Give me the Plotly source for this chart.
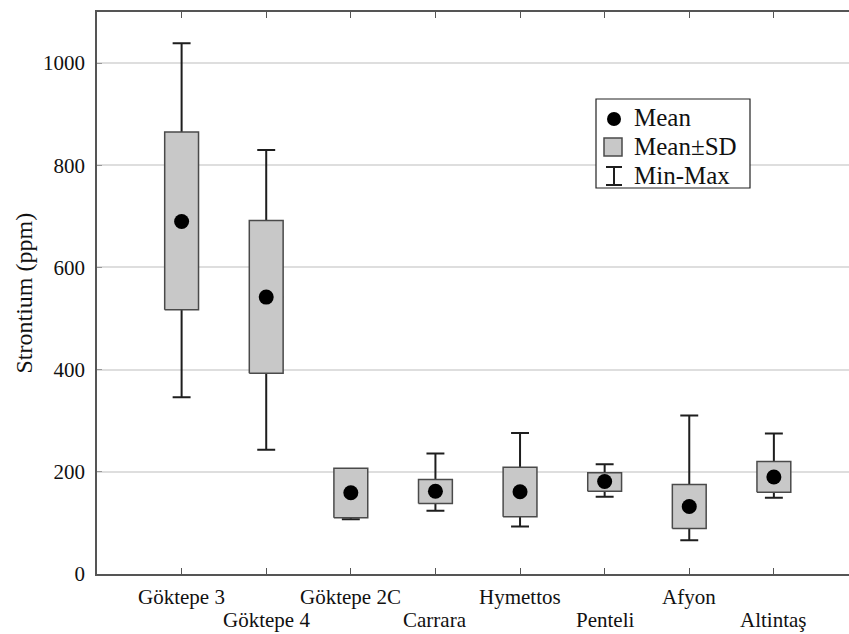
import plotly.graph_objects as go

# ---- data ----
categories = ["Göktepe 3", "Göktepe 4", "Göktepe 2C", "Carrara",
              "Hymettos", "Penteli", "Afyon", "Altintaş"]
mean_vals = [690, 542, 159, 162, 161, 181, 132, 190]
sd_low = [517, 393, 110, 138, 112, 162, 89, 160]     # mean - SD
sd_high = [865, 692, 207, 185, 209, 198, 175, 220]   # mean + SD
min_vals = [346, 243, 107, 124, 93, 151, 66, 149]
max_vals = [1039, 830, 205, 236, 276, 215, 310, 275]
y_ticks = [0, 200, 400, 600, 800, 1000]

FONT = "Liberation Serif, Times New Roman, serif"
W, H = 849, 634
ML, MR, MT, MB = 97, 0, 12, 60
PW, PH = W - ML - MR, H - MT - MB
BOX_HALF = 0.2

def px(x):
    return (x - ML) / PW

def py(y):
    return (H - MB - y) / PH

xs = list(range(len(categories)))

fig = go.Figure()
# whiskers (min-max): degenerate box at the mean with caps at min and max
fig.add_trace(go.Box(
    x=xs, q1=mean_vals, median=mean_vals, q3=mean_vals,
    lowerfence=min_vals, upperfence=max_vals,
    width=2 * BOX_HALF, whiskerwidth=0.53,
    fillcolor="rgba(0,0,0,0)", line=dict(color="#1e1e1e", width=2),
    boxpoints=False, showlegend=False, hoverinfo="skip",
))

# mean ± SD boxes as filled rectangles (scatter layer, drawn above whiskers)
rx, ry = [], []
for i, lo, hi in zip(xs, sd_low, sd_high):
    rx += [i - BOX_HALF, i + BOX_HALF, i + BOX_HALF, i - BOX_HALF, i - BOX_HALF, None]
    ry += [lo, lo, hi, hi, lo, None]
fig.add_trace(go.Scatter(
    x=rx, y=ry, mode="lines", fill="toself", fillcolor="#c8c8c8",
    line=dict(color="#4a4a4a", width=1.5), showlegend=False, hoverinfo="skip",
))

# means
fig.add_trace(go.Scatter(
    x=xs, y=mean_vals, mode="markers",
    marker=dict(color="black", size=15, line=dict(width=0)),
    showlegend=False, hoverinfo="skip",
))

annotations = []
for i, c in enumerate(categories):
    ypx = 597 if i % 2 == 0 else 620
    annotations.append(dict(x=i, xref="x", y=py(ypx), yref="paper",
                            text=c, showarrow=False, xanchor="center",
                            yanchor="middle", font=dict(family=FONT, size=21, color="#111")))

annotations.append(dict(x=px(23.5), xref="paper", y=0.5, yref="paper",
                        text="Strontium (ppm)", textangle=-90, showarrow=False,
                        xanchor="center", yanchor="middle",
                        font=dict(family=FONT, size=24, color="#111")))

# legend (drawn manually)
leg_items = ["Mean", "Mean±SD", "Min-Max"]
leg_y = [118, 147, 176]
for t, yy in zip(leg_items, leg_y):
    annotations.append(dict(x=px(632), xref="paper", y=py(yy), yref="paper",
                            text=t, showarrow=False, xanchor="left", yanchor="middle",
                            font=dict(family=FONT, size=25, color="#111")))

shapes = [
    dict(type="rect", xref="paper", yref="paper", x0=px(596), x1=px(750),
         y0=py(99), y1=py(188), line=dict(color="#222", width=1.2), fillcolor="white", layer="above"),
    dict(type="circle", xref="paper", yref="paper", x0=px(607), x1=px(621),
         y0=py(112), y1=py(126), line=dict(width=0), fillcolor="black", layer="above"),
    dict(type="rect", xref="paper", yref="paper", x0=px(604), x1=px(622),
         y0=py(138), y1=py(156), line=dict(color="#4a4a4a", width=1.5), fillcolor="#c8c8c8", layer="above"),
    dict(type="line", xref="paper", yref="paper", x0=px(614), x1=px(614),
         y0=py(167), y1=py(185), line=dict(color="#1e1e1e", width=2), layer="above"),
    dict(type="line", xref="paper", yref="paper", x0=px(606), x1=px(622),
         y0=py(167), y1=py(167), line=dict(color="#1e1e1e", width=2), layer="above"),
    dict(type="line", xref="paper", yref="paper", x0=px(606), x1=px(622),
         y0=py(185), y1=py(185), line=dict(color="#1e1e1e", width=2), layer="above"),
]

fig.update_layout(
    width=W, height=H,
    margin=dict(l=ML, r=MR, t=MT, b=MB),
    paper_bgcolor="white", plot_bgcolor="white",
    font=dict(family=FONT, color="#111", size=21),
    annotations=annotations, shapes=shapes,
    xaxis=dict(range=[-1, 7.888], tickvals=xs, showticklabels=False,
               ticks="inside", ticklen=6, tickcolor="#555", tickwidth=1.2,
               showline=True, linecolor="#555", linewidth=1.5, mirror="ticks",
               showgrid=False, zeroline=False, fixedrange=True),
    yaxis=dict(range=[0, 1100], tickvals=y_ticks, ticktext=[str(v) for v in y_ticks],
               ticks="inside", ticklen=5, tickcolor="#999", tickwidth=1.2,
               ticklabelstandoff=6,
               tickfont=dict(family=FONT, size=21, color="#111"),
               showline=True, linecolor="#555", linewidth=1.5,
               showgrid=True, gridcolor="#dedede", gridwidth=1.5,
               zeroline=False, fixedrange=True),
)

fig.write_html("out.html")
